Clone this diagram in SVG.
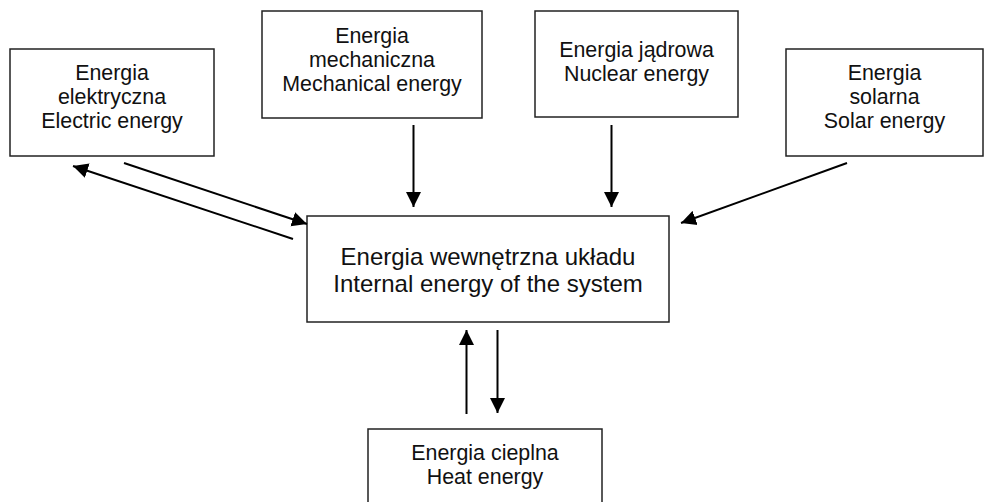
<svg xmlns="http://www.w3.org/2000/svg" width="984" height="502" viewBox="0 0 984 502">
<style>
.box{fill:#fff;stroke:#222;stroke-width:1.5}
.t{font-family:"Liberation Sans",Arial,sans-serif;font-size:21.4px;fill:#111;text-anchor:middle}
.tc{font-size:24px}
.c{stroke:#000;stroke-width:2;fill:none;marker-end:url(#ah)}
</style>
<defs>
<marker id="ah" markerUnits="userSpaceOnUse" markerWidth="16" markerHeight="16" viewBox="0 0 16 16" refX="15" refY="8" orient="auto">
<path d="M0,0.5 L15,8 L0,15.5 z" fill="#000"/>
</marker>
</defs>
<g id="electric">
<rect class="box" x="10" y="49" width="204" height="107"/>
<text class="t" x="112" y="80">Energia</text>
<text class="t" x="112" y="104">elektryczna</text>
<text class="t" x="112" y="128">Electric energy</text>
</g>
<g id="mechanical">
<rect class="box" x="262" y="11" width="220" height="107"/>
<text class="t" x="372" y="42.5">Energia</text>
<text class="t" x="372" y="66.5">mechaniczna</text>
<text class="t" x="372" y="90.5">Mechanical energy</text>
</g>
<g id="nuclear">
<rect class="box" x="535" y="11" width="203" height="106"/>
<text class="t" x="636.5" y="57">Energia jądrowa</text>
<text class="t" x="636.5" y="81">Nuclear energy</text>
</g>
<g id="solar">
<rect class="box" x="786" y="49" width="197" height="107"/>
<text class="t" x="884.5" y="80">Energia</text>
<text class="t" x="884.5" y="104">solarna</text>
<text class="t" x="884.5" y="128">Solar energy</text>
</g>
<g id="internal">
<rect class="box" x="307" y="216" width="362" height="106"/>
<text class="t tc" x="488" y="265">Energia wewnętrzna układu</text>
<text class="t tc" x="488" y="292">Internal energy of the system</text>
</g>
<g id="heat">
<rect class="box" x="368" y="429" width="234" height="90"/>
<text class="t" x="485" y="459.5">Energia cieplna</text>
<text class="t" x="485" y="483.5">Heat energy</text>
</g>
<g id="connectors">
<line class="c" x1="413.5" y1="125" x2="413.5" y2="207"/>
<line class="c" x1="611.5" y1="125" x2="611.5" y2="207"/>
<line class="c" x1="124" y1="163" x2="307" y2="224"/>
<line class="c" x1="293" y1="239" x2="73" y2="166"/>
<line class="c" x1="847" y1="163" x2="681" y2="223"/>
<line class="c" x1="466.5" y1="414" x2="466.5" y2="330"/>
<line class="c" x1="497.5" y1="330" x2="497.5" y2="413"/>
</g>
</svg>
